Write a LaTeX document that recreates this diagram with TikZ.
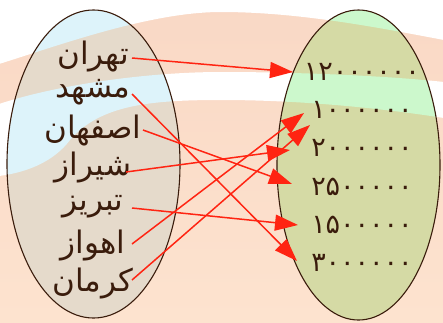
\documentclass[tikz,border=0pt]{standalone}
\usepackage{fontspec}
\usetikzlibrary{arrows.meta,shapes.geometric}
\TeXXeTstate=1
\newfontfamily\arabicfont[Script=Arabic]{DejaVu Sans}

\definecolor{peachtop}{HTML}{F9D8C5}
\definecolor{peachlow}{HTML}{FDE3CF}
\definecolor{leftbeige}{HTML}{E5DACB}
\definecolor{leftblue}{HTML}{DDF3FA}
\definecolor{rightolive}{HTML}{D5DAA5}
\definecolor{rightgreen}{HTML}{CCF8CC}
\definecolor{inkbrown}{HTML}{3A1C0C}
\definecolor{arrowred}{HTML}{FF2412}

% light bands of the faded backdrop
\def\topwhite{(-1,-1) -- (-1,64) .. controls (60,45) and (150,12) .. (221,12)
  .. controls (300,12) and (380,28) .. (444,40) -- (444,-1) -- cycle}
\def\midwhite{(-1,104) .. controls (60,84) and (150,72) .. (221,72)
  .. controls (300,72) and (390,76) .. (444,82) -- (444,118)
  .. controls (380,108) and (300,100) .. (221,100)
  .. controls (150,100) and (100,105) .. (70,140)
  .. controls (55,160) and (30,172) .. (-1,176) -- cycle}

\tikzset{
  x=1pt, y=-1pt,
  setshape/.style={ellipse, draw=inkbrown, line width=1.1pt, inner sep=0pt},
  city/.style={font=\arabicfont\fontsize{31}{34}\selectfont, text=inkbrown, inner sep=0pt},
  amount/.style={font=\arabicfont\fontsize{27}{30}\selectfont, text=inkbrown, inner sep=0pt},
  arr/.style={draw=arrowred, line width=1.5pt, -{Triangle[length=23pt,width=16pt]}}
}

\begin{document}
\begin{tikzpicture}
\useasboundingbox (0,0) rectangle (443,322);

% backdrop
\shade[top color=peachtop, bottom color=peachlow] (0,0) rectangle (443,322);
\fill[white] \topwhite;
\fill[white] \midwhite;

% tinted set interiors
\begin{scope}
  \clip (93.5,164) ellipse [x radius=86.5, y radius=154];
  \fill[leftbeige] (0,0) rectangle (443,322);
  \fill[leftblue] \topwhite;
  \fill[leftblue] \midwhite;
\end{scope}
\begin{scope}
  \clip (358.5,165) ellipse [x radius=81.5, y radius=155];
  \fill[rightolive] (0,0) rectangle (443,322);
  \fill[rightgreen] \topwhite;
  \fill[rightgreen] \midwhite;
\end{scope}

% set outlines
\node[setshape, minimum width=173, minimum height=308] (cities) at (93.5,164) {};
\node[setshape, minimum width=163, minimum height=310] (amounts) at (358.5,165) {};

% cities
\node[city] (c1) at (93,57)  {\beginR تهران\endR};
\node[city] (c2) at (93,92)  {\beginR مشهد\endR};
\node[city] (c3) at (93,130) {\beginR اصفهان\endR};
\node[city] (c4) at (93,168) {\beginR شیراز\endR};
\node[city] (c5) at (93,207) {\beginR تبریز\endR};
\node[city] (c6) at (93,245) {\beginR اهواز\endR};
\node[city] (c7) at (93,283) {\beginR کرمان\endR};

% populations
\node[amount] (n1) at (362,72)  {۱۲۰۰۰۰۰۰};
\node[amount] (n2) at (362,110) {۱۰۰۰۰۰۰};
\node[amount] (n3) at (362,148) {۲۰۰۰۰۰۰};
\node[amount] (n4) at (362,187) {۲۵۰۰۰۰۰};
\node[amount] (n5) at (362,225) {۱۵۰۰۰۰۰};
\node[amount] (n6) at (362,263) {۳۰۰۰۰۰۰};

% mapping
\draw[arr] ([shift={(39,1)}]c1.center)  -- ([shift={(-69,0)}]n1.center);
\draw[arr] ([shift={(39,2)}]c2.center)  -- ([shift={(-65,-2)}]n6.center);
\draw[arr] ([shift={(50,0)}]c3.center)  -- ([shift={(-70,-3)}]n4.center);
\draw[arr] ([shift={(33,4)}]c4.center)  -- ([shift={(-72,2)}]n3.center);
\draw[arr] ([shift={(39,1)}]c5.center)  -- ([shift={(-64,0)}]n5.center);
\draw[arr] ([shift={(39,-1)}]c6.center) -- ([shift={(-58,3)}]n2.center);
\draw[arr] ([shift={(39,-3)}]c7.center) -- ([shift={(-52,-23)}]n3.center);
\end{tikzpicture}
\end{document}
